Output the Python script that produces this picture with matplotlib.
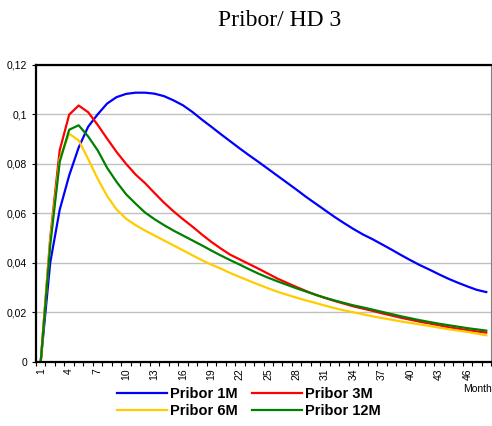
import numpy as np
import matplotlib
matplotlib.use("Agg")
import matplotlib.pyplot as plt
from matplotlib.ticker import FuncFormatter

# months on the category axis
months = list(range(1, 49))
tick_months = list(range(1, 49, 3))

# values
pribor_1m = [0, 0.040, 0.0614, 0.0753, 0.0866, 0.095, 0.100, 0.1044, 0.107, 0.1083,
             0.1088, 0.1088, 0.1084, 0.1074, 0.1057, 0.1037, 0.101, 0.0979, 0.095, 0.092,
             0.0891, 0.0862, 0.0834, 0.0807, 0.0779, 0.0751, 0.0723, 0.0695, 0.0666, 0.0639,
             0.0612, 0.0585, 0.056, 0.0536, 0.0514, 0.0495, 0.0474, 0.0453, 0.0431, 0.041,
             0.039, 0.0372, 0.0353, 0.0335, 0.0319, 0.0304, 0.029, 0.0281]
pribor_3m = [0, 0.050, 0.0855, 0.0999, 0.1036, 0.1009, 0.0958, 0.0902, 0.0848, 0.080,
             0.0757, 0.0722, 0.0682, 0.0643, 0.0608, 0.0576, 0.0546, 0.0514, 0.0484, 0.0457,
             0.0432, 0.0413, 0.0394, 0.0375, 0.0355, 0.0335, 0.0318, 0.0301, 0.0285, 0.027,
             0.0257, 0.0245, 0.0234, 0.0223, 0.0214, 0.0205, 0.0195, 0.0186, 0.0177, 0.0169,
             0.0161, 0.0154, 0.0147, 0.0139, 0.0133, 0.0127, 0.0122, 0.0117]
pribor_6m = [0, 0.049, 0.082, 0.0922, 0.0895, 0.082, 0.074, 0.067, 0.0615, 0.0578,
             0.0552, 0.053, 0.051, 0.049, 0.047, 0.045, 0.043, 0.041, 0.0392, 0.0376,
             0.0358, 0.0342, 0.0326, 0.0311, 0.0296, 0.0282, 0.027, 0.0258, 0.0247, 0.0237,
             0.0226, 0.0216, 0.0207, 0.0199, 0.0191, 0.0183, 0.0176, 0.0169, 0.0162, 0.0156,
             0.015, 0.0144, 0.0137, 0.0131, 0.0125, 0.012, 0.0113, 0.0106]
pribor_12m = [0, 0.047, 0.0808, 0.0938, 0.0956, 0.0911, 0.0855, 0.0784, 0.0727, 0.0677,
              0.0639, 0.0603, 0.0576, 0.0552, 0.053, 0.051, 0.049, 0.047, 0.0449, 0.0429,
              0.041, 0.0392, 0.0373, 0.0355, 0.0339, 0.0324, 0.031, 0.0296, 0.0283, 0.027,
              0.0258, 0.0247, 0.0237, 0.0227, 0.0219, 0.021, 0.0201, 0.0192, 0.0183, 0.0175,
              0.0167, 0.016, 0.0153, 0.0147, 0.0141, 0.0135, 0.013, 0.0125]

fig = plt.figure(figsize=(4.92, 4.26), dpi=100)
ax = fig.add_axes([36/492, 64.5/426, 455/492, 296.5/426])

l1, = ax.plot(months, pribor_1m, color="#0000FF", lw=1.6, label="Pribor 1M")
l3, = ax.plot(months, pribor_3m, color="#FF0000", lw=1.6, label="Pribor 3M")
l6, = ax.plot(months, pribor_6m, color="#FFCC00", lw=1.6, label="Pribor 6M")
l12, = ax.plot(months, pribor_12m, color="#008000", lw=1.6, label="Pribor 12M")

ax.set_xlim(0.5, 48.5)
ax.set_ylim(0, 0.12)
ax.set_yticks(np.arange(0, 0.121, 0.02))
ax.yaxis.set_major_formatter(FuncFormatter(
    lambda v, p: "0" if abs(v) < 1e-9 else ("%g" % round(v, 2)).replace(".", ",")))
ax.grid(axis="y", color="#C0C0C0", lw=1)
ax.set_axisbelow(True)

# ticks at category boundaries, labels every third month
ax.set_xticks(np.arange(0.5, 49, 1))
ax.set_xticklabels([])
ax.set_xticks(tick_months, minor=True)
ax.set_xticklabels([str(m) for m in tick_months], minor=True, rotation=90, fontsize=7.5,
                   family="Liberation Sans")
ax.tick_params(axis="x", which="major", length=3, width=0.8, direction="out")
ax.tick_params(axis="x", which="minor", length=0, pad=5)
ax.tick_params(axis="y", length=3, width=0.8, labelsize=7.5)
for lab in ax.get_yticklabels():
    lab.set_family("Liberation Sans")

for s in ["left", "bottom", "top"]:
    ax.spines[s].set_linewidth(1.6)
    ax.spines[s].set_color("black")
ax.spines["right"].set_linewidth(0.8)
ax.spines["right"].set_color("#808080")

fig.text(280/492, 1 - 21/426, "Pribor/ HD 3", ha="center", va="center",
         family="Liberation Serif", fontsize=17)
fig.text(463/492, 1 - 389/426, "Month", ha="left", va="center",
         family="Liberation Sans", fontsize=7.5)

fig.legend([l1, l6, l3, l12], ["Pribor 1M", "Pribor 6M", "Pribor 3M", "Pribor 12M"],
           ncol=2, loc="center", bbox_to_anchor=(249/492, 1 - 402.5/426), frameon=False,
           prop={"family": "Liberation Sans", "weight": "bold", "size": 10.5},
           handlelength=3.4, handletextpad=0.2, columnspacing=1.0, labelspacing=0.25,
           borderpad=0)

fig.savefig("out.png", dpi=100)
